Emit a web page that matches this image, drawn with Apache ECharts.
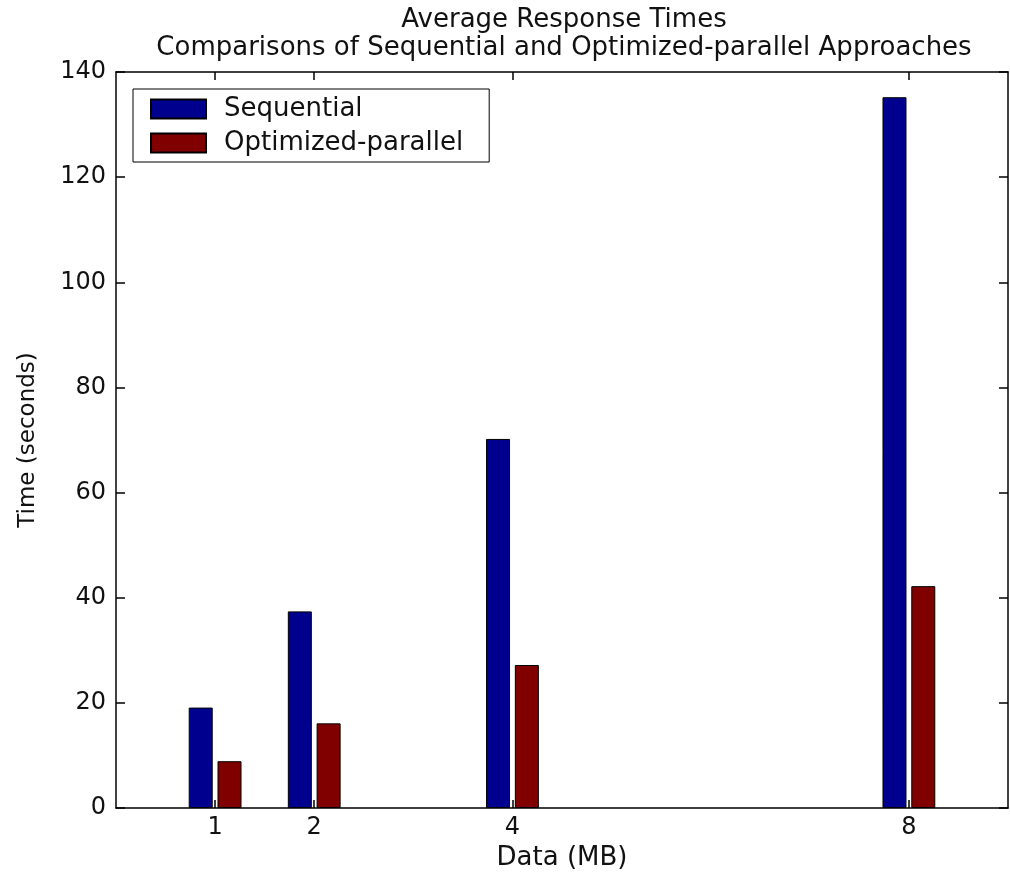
<!DOCTYPE html>
<html>
<head>
<meta charset="utf-8">
<script src="https://cdn.jsdelivr.net/npm/echarts@6/dist/echarts.min.js"></script>
<style>html,body{margin:0;padding:0;background:#fff}#c{width:1010px;height:872px}</style>
</head>
<body>
<div id="c"></div>
<script>
const sizes = [1, 2, 4, 8];
const sequential = [19.1, 37.4, 70.2, 135.2];
const optimizedParallel = [8.9, 16.1, 27.2, 42.2];
const yTicks = [0, 20, 40, 60, 80, 100, 120, 140];
const seriesNames = ['Sequential', 'Optimized-parallel'];
const titleLines = ['Average Response Times', 'Comparisons of Sequential and Optimized-parallel Approaches'];

const FONT = '"DejaVu Sans", "Liberation Sans", sans-serif';
const FS = 26;
const TFS = 24;
const chart = echarts.init(document.getElementById('c'), null, {renderer: 'canvas'});

const pair = vals => sizes.map((s, i) => [s, vals[i]]);
const barStyle = c => ({color: c, borderColor: '#000', borderWidth: 1});

chart.setOption({
  animation: false,
  backgroundColor: '#fff',
  textStyle: {fontFamily: FONT},
  title: {
    text: titleLines.join('\n'),
    left: 559, top: 1, textAlign: 'center',
    textStyle: {fontFamily: FONT, fontSize: 26, fontWeight: 'normal', color: '#111', lineHeight: 28}
  },
  legend: {
    orient: 'vertical', left: 133, top: 89,
    padding: [7, 26, 6, 17],
    itemWidth: 55, itemHeight: 19, itemGap: 8,
    borderColor: '#000', borderWidth: 1, backgroundColor: '#fff',
    icon: 'rect',
    textStyle: {fontFamily: FONT, fontSize: FS, color: '#111', lineHeight: 19, padding: [0, 0, 0, 13]},
    data: seriesNames
  },
  grid: {left: 116, right: 2, top: 72, bottom: 64, containLabel: false, outerBoundsMode: 'none'},
  xAxis: [{
    type: 'value', min: 0, max: 9, position: 'bottom',
    name: 'Data (MB)', nameLocation: 'middle', nameGap: 35,
    nameTextStyle: {fontFamily: FONT, fontSize: FS, color: '#111'},
    axisLine: {show: true, onZero: false, lineStyle: {color: '#000', width: 1.5}},
    axisTick: {show: true, inside: true, length: 8, customValues: sizes, lineStyle: {color: '#000', width: 1.5}},
    axisLabel: {show: true, customValues: sizes, margin: 8, fontFamily: FONT, fontSize: TFS, color: '#111'},
    splitLine: {show: false}
  }, {
    type: 'value', min: 0, max: 9, position: 'top',
    axisLine: {show: true, onZero: false, lineStyle: {color: '#000', width: 1.5}},
    axisTick: {show: true, inside: true, length: 8, customValues: sizes, lineStyle: {color: '#000', width: 1.5}},
    axisLabel: {show: false},
    splitLine: {show: false}
  }],
  yAxis: [{
    type: 'value', min: 0, max: 140, interval: 20, position: 'left',
    name: 'Time (seconds)', nameLocation: 'middle', nameGap: 76, nameRotate: 90,
    nameTextStyle: {fontFamily: FONT, fontSize: 23, color: '#111'},
    axisLine: {show: true, onZero: false, lineStyle: {color: '#000', width: 1.5}},
    axisTick: {show: true, inside: true, length: 9, lineStyle: {color: '#000', width: 1.5}},
    axisLabel: {show: true, margin: 10, fontFamily: FONT, fontSize: TFS, color: '#111',
      customValues: yTicks},
    splitLine: {show: false}
  }, {
    type: 'value', min: 0, max: 140, interval: 20, position: 'right',
    axisLine: {show: true, onZero: false, lineStyle: {color: '#000', width: 1.5}},
    axisTick: {show: true, inside: true, length: 9, lineStyle: {color: '#000', width: 1.5}},
    axisLabel: {show: false},
    splitLine: {show: false}
  }],
  series: [{
    name: seriesNames[0], type: 'bar', xAxisIndex: 0, yAxisIndex: 0,
    barWidth: 24, barGap: '20%',
    itemStyle: barStyle('#00008F'),
    data: pair(sequential)
  }, {
    name: seriesNames[1], type: 'bar', xAxisIndex: 0, yAxisIndex: 0,
    barWidth: 24, barGap: '20%',
    itemStyle: barStyle('#800000'),
    data: pair(optimizedParallel)
  }]
});
</script>
</body>
</html>
